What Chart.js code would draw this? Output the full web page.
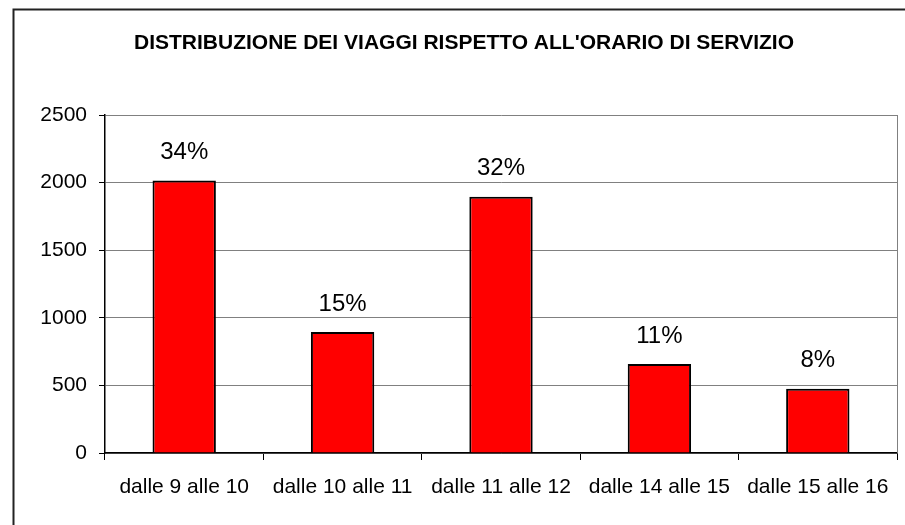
<!DOCTYPE html>
<html>
<head>
<meta charset="utf-8">
<script src="https://cdn.jsdelivr.net/npm/chart.js@4/dist/chart.umd.min.js"></script>
<style>
  html, body { margin: 0; padding: 0; background: #fff; }
  #wrap { width: 905px; height: 525px; }
</style>
</head>
<body>
<div id="wrap"><canvas id="chart" width="905" height="525"></canvas></div>
<script>
const title = "DISTRIBUZIONE DEI VIAGGI RISPETTO ALL'ORARIO DI SERVIZIO";
const categories = ['dalle 9 alle 10', 'dalle 10 alle 11', 'dalle 11 alle 12', 'dalle 14 alle 15', 'dalle 15 alle 16'];
const trips = [2015, 895, 1895, 658, 475];
const shares = ['34%', '15%', '32%', '11%', '8%'];
const yTicks = [0, 500, 1000, 1500, 2000, 2500];

const font = 'Liberation Sans, Arial, sans-serif';

// frame, title, right border and labels on top of bars
const decor = {
  id: 'decor',
  beforeDraw(chart) {
    const { ctx } = chart;
    ctx.save();
    ctx.fillStyle = '#fff';
    ctx.fillRect(0, 0, chart.width, chart.height);
    ctx.strokeStyle = '#222';
    ctx.lineWidth = 2;
    ctx.beginPath();
    ctx.moveTo(13.5, chart.height);
    ctx.lineTo(13.5, 9.5);
    ctx.lineTo(chart.width, 9.5);
    ctx.stroke();
    ctx.fillStyle = '#000';
    ctx.font = `bold 21px ${font}`;
    ctx.textAlign = 'center';
    ctx.textBaseline = 'middle';
    ctx.fillText(title, 464, 43);
    ctx.restore();
  },
  afterDraw(chart) {
    const { ctx, chartArea } = chart;
    ctx.save();
    ctx.strokeStyle = '#808080';
    ctx.lineWidth = 1;
    ctx.beginPath();
    ctx.moveTo(chartArea.right + 0.5, chartArea.top);
    ctx.lineTo(chartArea.right + 0.5, chartArea.bottom);
    ctx.stroke();
    ctx.fillStyle = '#000';
    ctx.font = `24px ${font}`;
    ctx.textAlign = 'center';
    ctx.textBaseline = 'middle';
    chart.getDatasetMeta(0).data.forEach((bar, i) => {
      ctx.fillText(shares[i], bar.x, bar.y - 28);
    });
    ctx.restore();
  }
};

new Chart(document.getElementById('chart'), {
  type: 'bar',
  data: {
    labels: categories,
    datasets: [{
      data: trips,
      backgroundColor: '#ff0000',
      borderColor: '#000',
      borderWidth: 2,
      barPercentage: 0.4,
      categoryPercentage: 1,
    }],
  },
  options: {
    responsive: false,
    animation: false,
    events: [],
    layout: { padding: { top: 115, right: 8, left: 0, bottom: 0 } },
    plugins: { legend: { display: false }, tooltip: { enabled: false } },
    scales: {
      x: {
        grid: { drawOnChartArea: false, tickLength: 7, tickColor: '#000' },
        border: { color: '#000', width: 1.5 },
        ticks: { color: '#000', font: { family: font, size: 21 }, padding: 15, maxRotation: 0 },
        afterFit: (s) => { s.height = 72; },
      },
      y: {
        min: 0,
        max: 2500,
        afterBuildTicks: (s) => { s.ticks = yTicks.map((v) => ({ value: v })); },
        grid: { color: '#808080', tickLength: 6, tickColor: '#000' },
        border: { color: '#000', width: 1.5 },
        ticks: { color: '#000', font: { family: font, size: 21 }, padding: 12, callback: (v) => String(v) },
        afterFit: (s) => { s.width = 105; },
      },
    },
  },
  plugins: [decor],
});
</script>
</body>
</html>
